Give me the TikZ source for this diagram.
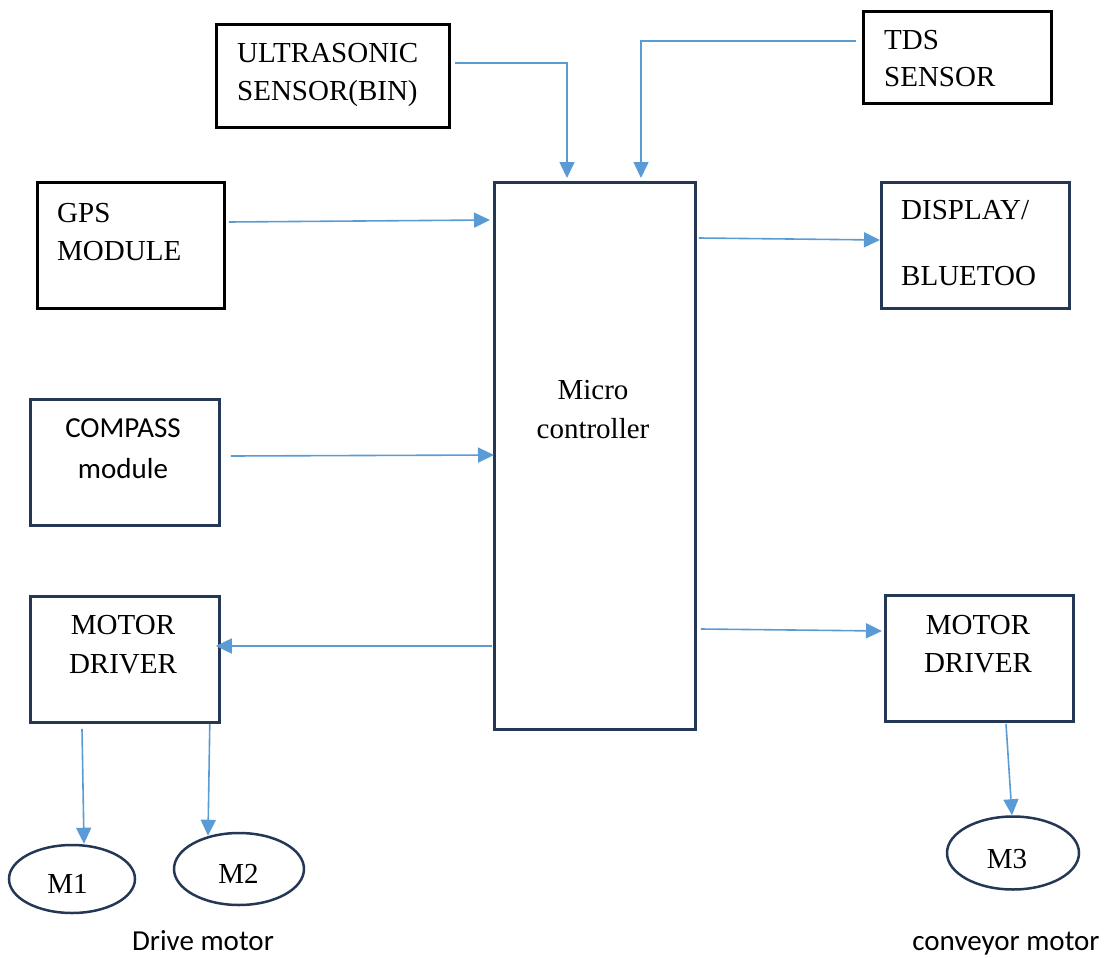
\documentclass[tikz,border=0pt]{standalone}
\usepackage{fontspec}
\setmainfont{Liberation Serif}
\newfontfamily\calibrifont{Carlito}
\usetikzlibrary{arrows.meta,shapes.geometric,calc}
\definecolor{navy}{RGB}{36,56,86}
\definecolor{wire}{RGB}{91,155,213}
\tikzset{
  blk/.style={draw=navy, line width=2.8pt, minimum width=#1, inner sep=0, anchor=north west},
  blkk/.style={draw=black, line width=2.8pt, inner sep=0, anchor=north west},
  motor/.style={draw=navy, line width=2.5pt, ellipse, inner sep=0},
  txt/.style={inner sep=0, anchor=base west, font=\fontsize{29}{34}\selectfont},
  ctxt/.style={inner sep=0, anchor=base, font=\fontsize{29}{34}\selectfont},
  stxt/.style={inner sep=0, anchor=base, font=\calibrifont\fontsize{29}{34}\selectfont},
  arr/.style={draw=wire, line width=1.6pt, -{Triangle[length=16pt,width=15pt]}}
}
\begin{document}
\begin{tikzpicture}[x=1pt,y=-1pt]
\useasboundingbox (0,0) rectangle (1104,958);

% blocks
\node[blkk, minimum width=233pt, minimum height=103pt] (us) at (215,23) {};
\node[blkk, minimum width=188pt, minimum height=92pt] (tds) at (862,10) {};
\node[blkk, minimum width=187pt, minimum height=126pt] (gps) at (36,181) {};
\node[blk=201pt, minimum height=547pt] (mc) at (493,181) {};
\node[blk=188pt, minimum height=126pt] (disp) at (880,181) {};
\node[blk=189pt, minimum height=126pt] (cmp) at (29,398) {};
\node[blk=189pt, minimum height=126pt] (md1) at (29,595) {};
\node[blk=188pt, minimum height=126pt] (md2) at (884,594) {};

% motors
\node[motor, minimum width=126pt, minimum height=68pt] (m1) at (72,879) {};
\node[motor, minimum width=130pt, minimum height=72pt] (m2) at (239,869) {};
\node[motor, minimum width=132pt, minimum height=73pt] (m3) at (1013,853) {};

% labels
\node[txt] (t1a) at (237,63) {ULTRASONIC};
\node[txt] (t1b) at (237,100.5) {SENSOR(BIN)};
\node[txt] (t2a) at (884,50) {TDS};
\node[txt] (t2b) at (884,87) {SENSOR};
\node[txt] (t3a) at (57,222) {GPS};
\node[txt] (t3b) at (57,260) {MODULE};
\node[txt] (t4a) at (901,219) {DISPLAY/};
\node[txt] (t4b) at (901,285) {BLUETOO};
\node[ctxt] (t5a) at (593,399) {Micro};
\node[ctxt] (t5b) at (593,438) {controller};
\node[stxt] (t6a) at (123,437) {COMPASS};
\node[stxt] (t6b) at (123,478) {module};
\node[ctxt] (t7a) at (123,634) {MOTOR};
\node[ctxt] (t7b) at (123,673) {DRIVER};
\node[ctxt] (t8a) at (978,634) {MOTOR};
\node[ctxt] (t8b) at (978,672.5) {DRIVER};
\node[ctxt] (t11) at (67.5,893) {M1};
\node[ctxt] (t12) at (238.5,883) {M2};
\node[ctxt] (t13) at (1007,868) {M3};
\node[stxt] (t9) at (203,950) {Drive motor};
\node[stxt] (t10) at (1006,950) {conveyor motor};

% connectors
\draw[arr] ([shift={(4,40)}]us.north east) -| ([shift={(74,-3)}]mc.north west);
\draw[arr] ([shift={(-6,31)}]tds.north west) -| ([shift={(148,-3)}]mc.north west);
\draw[arr] ([shift={(3,41)}]gps.north east) -- ([shift={(-3,39)}]mc.north west);
\draw[arr] ([shift={(10,58)}]cmp.north east) -- ([shift={(1,274)}]mc.north west);
\draw[arr] ([shift={(2,57)}]mc.north east) -- ([shift={(0,59)}]disp.north west);
\draw[arr] ([shift={(-1,465)}]mc.north west) -- ([shift={(-5,51)}]md1.north east);
\draw[arr] ([shift={(4,448)}]mc.north east) -- ([shift={(-2,37)}]md2.north west);
\draw[arr] ([shift={(53,5)}]md1.south west) -- ([shift={(12,0)}]m1.north);
\draw[arr] ([shift={(-11,0)}]md1.south east) -- ([shift={(-31,4)}]m2.north);
\draw[arr] ([shift={(122,1)}]md2.south west) -- ([shift={(-1,0)}]m3.north);
\end{tikzpicture}
\end{document}
